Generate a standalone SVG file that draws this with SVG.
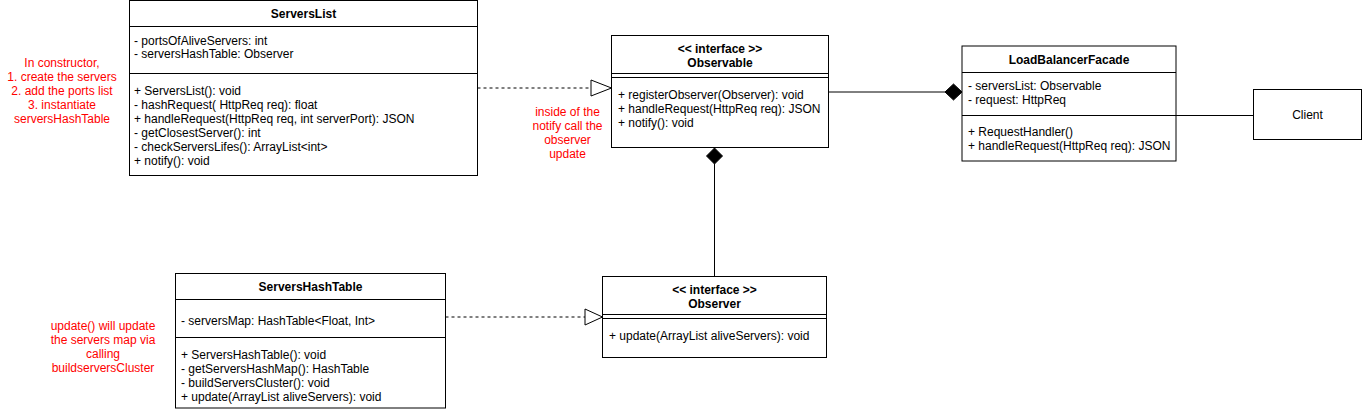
<svg xmlns="http://www.w3.org/2000/svg" width="1369" height="412" viewBox="0 0 1369 412">
<style>
.box{fill:#fff;stroke:#000;stroke-width:1}
.ln{stroke:#000;stroke-width:1;fill:none}
.t{font-family:"Liberation Sans",Arial,sans-serif;font-size:12px;fill:#000}
.b{font-weight:bold}
.c{text-anchor:middle}
.note{font-family:"Liberation Sans",Arial,sans-serif;font-size:12px;fill:#ff0000;text-anchor:middle}
.dash{stroke:#000;stroke-width:1;fill:none;stroke-dasharray:3 3}
.tri{fill:#fff;stroke:#000;stroke-width:1}
.dia{fill:#000;stroke:#000;stroke-width:1}
</style>
<rect width="1369" height="412" fill="#fff"/>
<g id="connectors">
<line class="dash" x1="477.5" y1="88" x2="591" y2="88"/>
<polygon class="tri" points="591,80 611.5,88 591,96"/>
<line class="dash" x1="445.5" y1="317" x2="585" y2="317"/>
<polygon class="tri" points="585,309 602.5,317 585,325"/>
<line class="ln" x1="828.5" y1="92" x2="945" y2="92"/>
<polygon class="dia" points="945,92 953.5,84 962,92 953.5,100"/>
<line class="ln" x1="714.5" y1="164" x2="714.5" y2="276.5"/>
<polygon class="dia" points="714.5,148 722.5,156 714.5,164 706.5,156"/>
<line class="ln" x1="1176" y1="115.5" x2="1253.5" y2="115.5"/>
</g>
<g id="serversList">
<rect class="box" x="129.5" y="0.5" width="348" height="175"/>
<line class="ln" x1="129.5" y1="26.5" x2="477.5" y2="26.5"/>
<line class="ln" x1="129.5" y1="73.5" x2="477.5" y2="73.5"/>
<text class="t b c" x="303.5" y="18">ServersList</text>
<text class="t" x="134" y="44.5">- portsOfAliveServers: int</text>
<text class="t" x="134" y="58">- serversHashTable: Observer</text>
<text class="t" x="134" y="95">+ ServersList(): void</text>
<text class="t" x="134" y="109">- hashRequest( HttpReq req): float</text>
<text class="t" x="134" y="123">+ handleRequest(HttpReq req, int serverPort): JSON</text>
<text class="t" x="134" y="137">- getClosestServer(): int</text>
<text class="t" x="134" y="151">- checkServersLifes(): ArrayList&lt;int&gt;</text>
<text class="t" x="134" y="165">+ notify(): void</text>
</g>
<g id="note1">
<text class="note" x="62" y="66.5">In constructor,</text>
<text class="note" x="62" y="80.5">1. create the servers</text>
<text class="note" x="62" y="94.5">2. add the ports list</text>
<text class="note" x="62" y="108.5">3. instantiate</text>
<text class="note" x="62" y="122.5">serversHashTable</text>
</g>
<g id="observable">
<rect class="box" x="611.5" y="35.5" width="217" height="112"/>
<line class="ln" x1="611.5" y1="73.5" x2="828.5" y2="73.5"/>
<line class="ln" x1="611.5" y1="77.5" x2="828.5" y2="77.5"/>
<text class="t b c" x="720" y="53">&lt;&lt; interface &gt;&gt;</text>
<text class="t b c" x="720" y="67">Observable</text>
<text class="t" x="618" y="99">+ registerObserver(Observer): void</text>
<text class="t" x="618" y="113">+ handleRequest(HttpReq req): JSON</text>
<text class="t" x="618" y="127">+ notify(): void</text>
</g>
<g id="note2">
<text class="note" x="567.5" y="116">inside of the</text>
<text class="note" x="567.5" y="130">notify call the</text>
<text class="note" x="567.5" y="144">observer</text>
<text class="note" x="567.5" y="158">update</text>
</g>
<g id="loadBalancerFacade">
<rect class="box" x="962" y="46" width="214" height="115"/>
<line class="ln" x1="962" y1="72.5" x2="1176" y2="72.5"/>
<line class="ln" x1="962" y1="115.5" x2="1176" y2="115.5"/>
<text class="t b c" x="1069" y="64">LoadBalancerFacade</text>
<text class="t" x="968" y="90">- serversList: Observable</text>
<text class="t" x="968" y="104">- request: HttpReq</text>
<text class="t" x="968" y="136">+ RequestHandler()</text>
<text class="t" x="968" y="150">+ handleRequest(HttpReq req): JSON</text>
</g>
<g id="client">
<rect class="box" x="1253.5" y="89.5" width="108" height="50"/>
<text class="t c" x="1307.5" y="119">Client</text>
</g>
<g id="serversHashTable">
<rect class="box" x="175.5" y="273.5" width="270" height="134.5"/>
<line class="ln" x1="175.5" y1="299.5" x2="445.5" y2="299.5"/>
<line class="ln" x1="175.5" y1="337.5" x2="445.5" y2="337.5"/>
<text class="t b c" x="310.5" y="291">ServersHashTable</text>
<text class="t" x="181" y="325">- serversMap: HashTable&lt;Float, Int&gt;</text>
<text class="t" x="181" y="359">+ ServersHashTable(): void</text>
<text class="t" x="181" y="373">- getServersHashMap(): HashTable</text>
<text class="t" x="181" y="387">- buildServersCluster(): void</text>
<text class="t" x="181" y="401">+ update(ArrayList aliveServers): void</text>
</g>
<g id="note3">
<text class="note" x="103" y="330">update() will update</text>
<text class="note" x="103" y="344">the servers map via</text>
<text class="note" x="103" y="358">calling</text>
<text class="note" x="103" y="372">buildserversCluster</text>
</g>
<g id="observer">
<rect class="box" x="602.5" y="276.5" width="224" height="81"/>
<line class="ln" x1="602.5" y1="314.5" x2="826.5" y2="314.5"/>
<line class="ln" x1="602.5" y1="318.5" x2="826.5" y2="318.5"/>
<text class="t b c" x="714.5" y="294">&lt;&lt; interface &gt;&gt;</text>
<text class="t b c" x="714.5" y="308">Observer</text>
<text class="t" x="609" y="340">+ update(ArrayList aliveServers): void</text>
</g>
</svg>
